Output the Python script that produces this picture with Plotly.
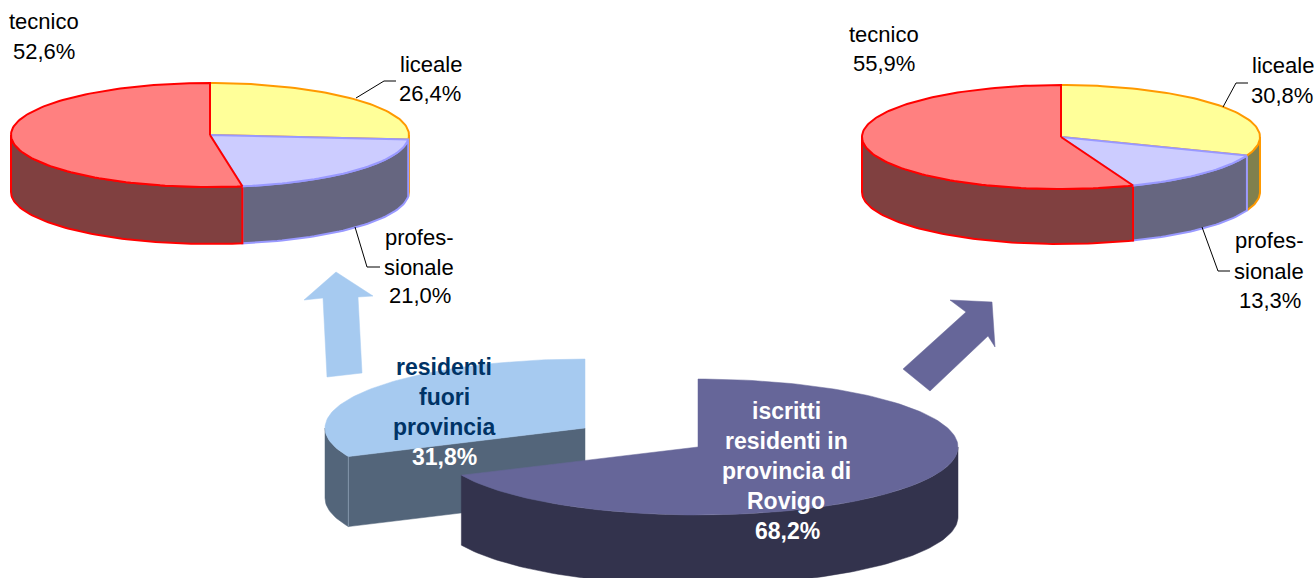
import numpy as np
import plotly.graph_objects as go

# ---- data ----
tipi = ["liceale", "professionale", "tecnico"]
fuori_provincia = [26.4, 21.0, 52.6]
in_provincia = [30.8, 13.3, 55.9]
residenza = ["iscritti residenti in provincia di Rovigo", "residenti fuori provincia"]
quote_residenza = [68.2, 31.8]

# ---- styles ----
TOP = ["#FFFF99", "#CCCCFF", "#FF8080"]
SIDE = ["#80804D", "#666680", "#804040"]
EDGE = ["#FF9900", "#9999FF", "#FF0000"]
FONT = "Liberation Sans, Arial, sans-serif"

fig = go.Figure()


def arc(cx, cy, rx, ry, a0, a1, dy=0):
    n = max(2, int(abs(a1 - a0) / 1.5) + 2)
    t = np.radians(np.linspace(a0, a1, n))
    return cx + rx * np.sin(t), cy - ry * np.cos(t) + dy


def poly(x, y, fill, line=None, width=2):
    fig.add_trace(go.Scatter(
        x=np.append(x, x[0]), y=np.append(y, y[0]), mode="lines", fill="toself",
        fillcolor=fill, line=dict(color=line or fill, width=width if line else 0.5),
        hoverinfo="skip", showlegend=False))


def wall(cx, cy, rx, ry, depth, a0, a1, fill, line=None, width=2):
    a0, a1 = max(a0, 90), min(a1, 270)
    if a1 <= a0:
        return
    x, y = arc(cx, cy, rx, ry, a0, a1)
    xb, yb = arc(cx, cy, rx, ry, a1, a0, depth)
    poly(np.r_[x, xb], np.r_[y, yb], fill, line, width)


def top(cx, cy, rx, ry, a0, a1, fill, line=None, width=2):
    x, y = arc(cx, cy, rx, ry, a0, a1)
    poly(np.r_[cx, x], np.r_[cy, y], fill, line, width)


def pie3d(values, cx, cy, rx, ry, depth):
    edges = np.r_[0, np.cumsum(values)] / sum(values) * 360
    for i in range(len(values)):
        wall(cx, cy, rx, ry, depth, edges[i], edges[i + 1], SIDE[i], EDGE[i])
    for i in range(len(values)):
        top(cx, cy, rx, ry, edges[i], edges[i + 1], TOP[i], EDGE[i])


pie3d(fuori_provincia, 210, 135, 199, 52, 57)
pie3d(in_provincia, 1061, 137, 199, 52, 55)

# lower pie: exploded slice first, main slice over it
split = quote_residenza[0] / sum(quote_residenza) * 360
ex, ey, erx, ery, d = 585, 428, 260, 69, 70
xc, yc = arc(ex, ey, erx, ery, split, split)
poly(np.r_[xc[0], ex, ex, xc[0]], np.r_[yc[0], ey, ey + d, yc[0] + d], "#53657A")
wall(ex, ey, erx, ery, d, split, 360, "#53657A")
fig.add_trace(go.Scatter(x=[xc[0], xc[0]], y=[yc[0], yc[0] + d], mode="lines",
                         line=dict(color="#8496AB", width=1), hoverinfo="skip", showlegend=False))
top(ex, ey, erx, ery, split, 360, "#A6CAF0")
wall(698, 447, 260, 68, 70, 0, split, "#33334D")
top(698, 447, 260, 68, 0, split, "#666699")

# arrows
poly(np.array([336, 373, 358, 362, 327, 323, 304.0]), np.array([272, 296, 297, 373, 377, 298, 300.0]), "#A6CAF0")
poly(np.array([992, 995, 988, 930, 903, 966, 950.0]), np.array([302, 347, 336, 391, 369, 312, 300.0]), "#666699")

# leader lines
leaders = [
    ([356, 384, 396], [98, 81, 81]),
    ([355, 367, 380], [227, 267, 267]),
    ([1223, 1236, 1248], [107, 83, 83]),
    ([1202, 1218, 1230], [227, 271, 271]),
]
for lx, ly in leaders:
    fig.add_trace(go.Scatter(x=lx, y=ly, mode="lines", line=dict(color="#000000", width=1),
                             hoverinfo="skip", showlegend=False))

# text
labels = [
    ("tecnico", 44, 21), ("52,6%", 44, 51),
    ("liceale", 431, 64), ("26,4%", 430, 93),
    ("profes-", 419, 237), ("sionale", 419, 267), ("21,0%", 420, 295),
    ("tecnico", 884, 34), ("55,9%", 884, 63),
    ("liceale", 1283, 65), ("30,8%", 1282, 95),
    ("profes-", 1269, 240), ("sionale", 1269, 271), ("13,3%", 1270, 300),
]
bold_labels = [
    ("residenti", 444, 367, "#003366"), ("fuori", 444, 397, "#003366"),
    ("provincia", 444, 427, "#003366"), ("31,8%", 444, 457, "#FFFFFF"),
    ("iscritti", 786, 411, "#FFFFFF"), ("residenti in", 786, 441, "#FFFFFF"),
    ("provincia di", 786, 471, "#FFFFFF"), ("Rovigo", 786, 501, "#FFFFFF"),
    ("68,2%", 787, 531, "#FFFFFF"),
]
for t, x, y in labels:
    fig.add_annotation(x=x, y=y, text=t, showarrow=False, xanchor="center", yanchor="middle",
                       font=dict(family=FONT, size=22, color="#000000"))
for t, x, y, c in bold_labels:
    fig.add_annotation(x=x, y=y, text=f"<b>{t}</b>", showarrow=False, xanchor="center", yanchor="middle",
                       font=dict(family=FONT, size=23, color=c))

fig.update_layout(
    width=1314, height=578, margin=dict(l=0, r=0, t=0, b=0),
    paper_bgcolor="#FFFFFF", plot_bgcolor="#FFFFFF", showlegend=False,
    xaxis=dict(range=[0, 1314], visible=False, fixedrange=True),
    yaxis=dict(range=[578, 0], visible=False, fixedrange=True),
)
fig.write_html("out.html", config={"displayModeBar": False},
               post_script="document.body.style.margin='0';document.documentElement.style.overflow='hidden';")
